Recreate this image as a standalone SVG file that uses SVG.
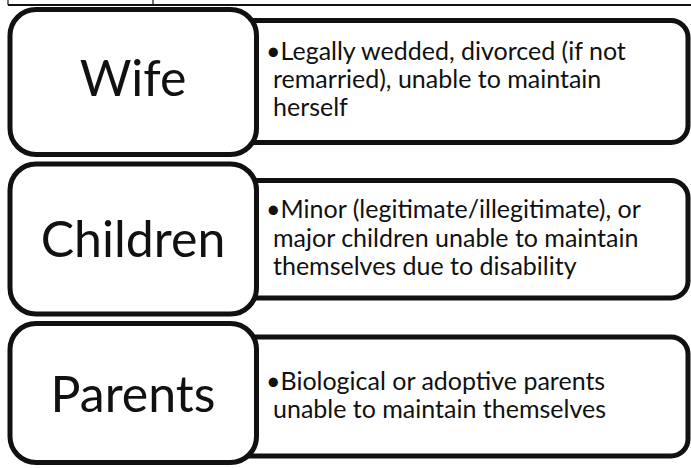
<svg xmlns="http://www.w3.org/2000/svg" width="691" height="468" viewBox="0 0 691 468">
<style>
.lbox{fill:#fff;stroke:#111;stroke-width:5}
.rbox{fill:#fff;stroke:#111;stroke-width:5}
.big{font-family:Lato,"Liberation Sans",sans-serif;font-size:50px;fill:#111;text-anchor:middle}
.txt{font-family:Lato,"Liberation Sans",sans-serif;font-size:25px;fill:#111}
.tbl{stroke:#111;fill:none}
</style>
<rect width="691" height="468" fill="#fff"/>
<g id="table-edge">
<line class="tbl" x1="8" y1="5" x2="691" y2="5" stroke-width="2"/>
<line class="tbl" x1="8" y1="0" x2="8" y2="5" stroke-width="1.2"/>
<line class="tbl" x1="153" y1="0" x2="153" y2="5" stroke-width="1.2"/>
</g>
<g id="connectors"></g>
<g id="wife">
<rect class="rbox" x="200" y="20.5" width="488" height="122" rx="17"/>
<rect class="lbox" x="10" y="9.5" width="246.5" height="145" rx="26"/>
<text class="big" x="133" y="96">Wife</text>
<text class="txt"><tspan x="266" y="60">•Legally wedded, divorced (if not</tspan><tspan x="273" y="88">remarried), unable to maintain</tspan><tspan x="273" y="116">herself</tspan></text>
</g>
<g id="children">
<rect class="rbox" x="200" y="180.5" width="488" height="117.5" rx="17"/>
<rect class="lbox" x="10" y="164" width="246.5" height="150" rx="26"/>
<text class="big" x="133" y="257">Children</text>
<text class="txt"><tspan x="266" y="218">•Minor (legitimate/illegitimate), or</tspan><tspan x="273" y="247">major children unable to maintain</tspan><tspan x="273" y="275">themselves due to disability</tspan></text>
</g>
<g id="parents">
<rect class="rbox" x="200" y="337" width="488" height="119" rx="17"/>
<rect class="lbox" x="10" y="323.5" width="246.5" height="139" rx="26"/>
<text class="big" x="133" y="412">Parents</text>
<text class="txt"><tspan x="266" y="390">•Biological or adoptive parents</tspan><tspan x="273" y="418">unable to maintain themselves</tspan></text>
</g>
</svg>
